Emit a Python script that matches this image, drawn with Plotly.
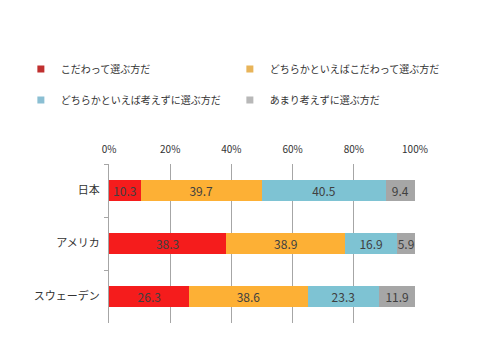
import plotly.graph_objects as go

categories = ["日本", "アメリカ", "スウェーデン"]
series_names = ["こだわって選ぶ方だ", "どちらかといえばこだわって選ぶ方だ",
                "どちらかといえば考えずに選ぶ方だ", "あまり考えずに選ぶ方だ"]
v_kodawaru = [10.3, 38.3, 26.3]
v_dochira_kodawaru = [39.7, 38.9, 38.6]
v_dochira_kangaezu = [40.5, 16.9, 23.3]
v_amari = [9.4, 5.9, 11.9]
series_values = [v_kodawaru, v_dochira_kodawaru, v_dochira_kangaezu, v_amari]
bar_colors = ["#F51C1C", "#FDB035", "#7EC3D3", "#A6A6A6"]
legend_colors = ["#C0302F", "#E8B459", "#8BBFD3", "#B8B8B8"]
tick_vals = [0, 20, 40, 60, 80, 100]
tick_text = ["0%", "20%", "40%", "60%", "80%", "100%"]

FONT = "Noto Sans CJK JP, Meiryo, sans-serif"

fig = go.Figure()
for name, vals, col in zip(series_names, series_values, bar_colors):
    fig.add_trace(go.Bar(
        y=categories, x=vals, orientation="h", name=name,
        marker=dict(color=col, line=dict(width=0)),
        text=[f"{v:.1f}" for v in vals], textposition="inside",
        insidetextanchor="middle", textangle=0, constraintext="none",
        textfont=dict(family=FONT, size=12, color="#404040"),
        showlegend=False, hoverinfo="x+y+name"))

legend_pos = [(-0.288, 1.5975), (0.395, 1.5975), (-0.288, 1.402), (0.395, 1.402)]
for i, (name, col) in enumerate(zip(series_names, legend_colors)):
    lg = "legend" if i == 0 else f"legend{i+1}"
    fig.add_trace(go.Scatter(
        x=[None], y=[None], mode="markers", name=name,
        marker=dict(symbol="square", size=7, color=col),
        showlegend=True, legend=lg, hoverinfo="skip"))

legend_common = dict(xref="paper", yref="paper", xanchor="left", yanchor="middle",
                     bgcolor="rgba(0,0,0,0)", borderwidth=0, itemsizing="trace",
                     font=dict(family=FONT, size=10, color="#333333"))
layout_legends = {}
for i, (lx, ly) in enumerate(legend_pos):
    key = "legend" if i == 0 else f"legend{i+1}"
    layout_legends[key] = dict(x=lx, y=ly, **legend_common)

fig.update_layout(
    width=480, height=360,
    margin=dict(l=109, r=65, t=164, b=37),
    paper_bgcolor="white", plot_bgcolor="white",
    barmode="stack", bargap=0.6,
    font=dict(family=FONT, size=11, color="#333333"),
    xaxis=dict(range=[0, 100], side="top", tickvals=tick_vals, ticktext=tick_text,
               showgrid=True, gridcolor="#A6A6A6", gridwidth=1, zeroline=False,
               showline=False, ticks="", ticklabelstandoff=8,
               tickfont=dict(family=FONT, size=10, color="#333333")),
    yaxis=dict(autorange="reversed", showline=True, linecolor="#A6A6A6", linewidth=1,
               ticks="outside", tickson="boundaries", ticklen=4, tickcolor="#A6A6A6",
               showgrid=False, ticklabelstandoff=6,
               tickfont=dict(family=FONT, size=11, color="#333333")),
    **layout_legends,
)

fig.write_html("out.html", config={"displayModeBar": False})
with open("out.html", "r", encoding="utf-8") as f:
    html = f.read()
html = html.replace("<head>", "<head><style>html,body{margin:0;padding:0;}</style>", 1)
with open("out.html", "w", encoding="utf-8") as f:
    f.write(html)
